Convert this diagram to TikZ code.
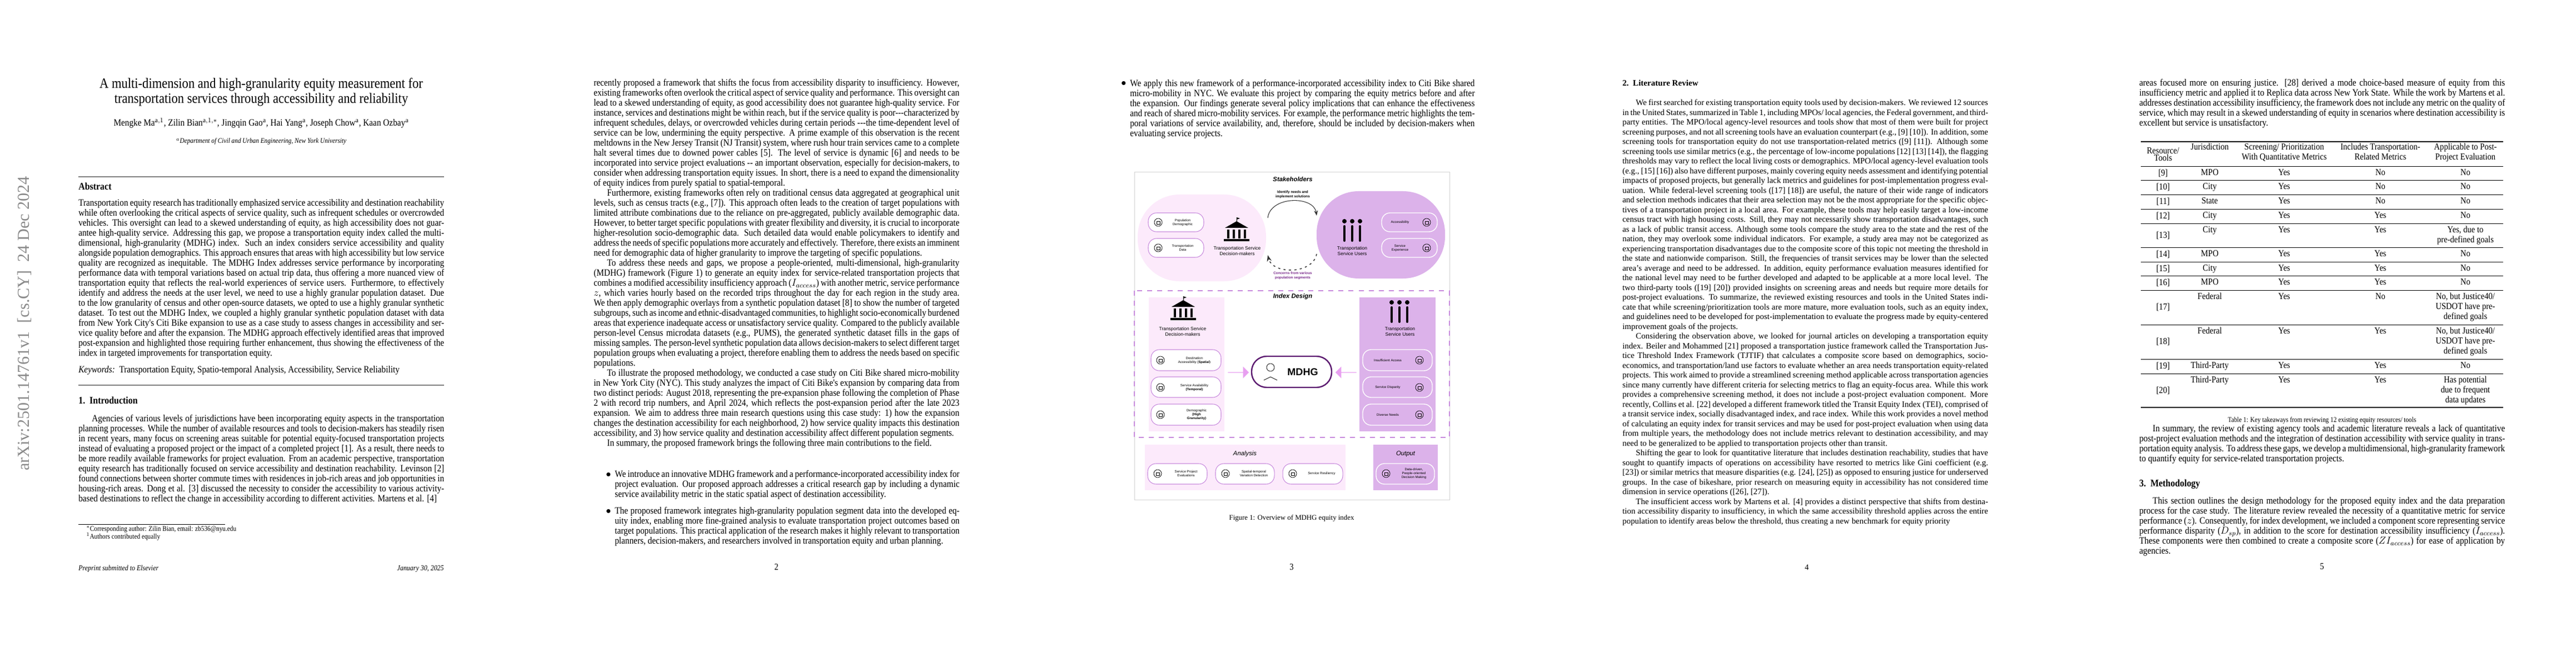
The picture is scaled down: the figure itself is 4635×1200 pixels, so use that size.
\documentclass[tikz,border=0pt]{standalone}
\usepackage{fontspec}
\setmainfont{Liberation Serif}
\newfontfamily\narrowrm[FakeStretch=0.88]{Liberation Serif}
\newfontfamily\figsf{Liberation Sans}
\usetikzlibrary{shapes.arrows,arrows.meta,calc}

\definecolor{pinkA}{HTML}{FCEAFB}
\definecolor{purpB}{HTML}{DCB2EA}
\definecolor{darkP}{HTML}{5C1B70}
\definecolor{lineP}{HTML}{C88BDD}
\definecolor{arrowP}{HTML}{E8A0F0}
\definecolor{concernP}{HTML}{7A2A8C}
\definecolor{stampgray}{HTML}{8A8A8A}

\newcommand\bodyfont{\narrowrm\fontsize{11.5}{11.93}\selectfont}
\newcommand\denseFont{\fontsize{9.9}{11.6}\selectfont}
\newcommand\ind{\hspace*{16pt}}

\tikzset{
  body/.style={anchor=north west, inner sep=0, text width=436pt, align=justify, font=\bodyfont},
  dense/.style={anchor=north west, inner sep=0, text width=436pt, align=justify, font=\denseFont},
  heading/.style={anchor=base west, inner sep=0, font=\narrowrm\bfseries\fontsize{12}{14}\selectfont},
  pagenum/.style={anchor=base, inner sep=0, font=\narrowrm\fontsize{11}{12}\selectfont},
  cell/.style={anchor=north, inner sep=0, align=center, font=\narrowrm\fontsize{11}{11.93}\selectfont},
  figtitle/.style={inner sep=0, font=\figsf\bfseries\itshape\fontsize{7.5}{8}\selectfont},
  pilltext/.style={inner sep=0, align=center, font=\figsf\fontsize{4}{4.6}\selectfont},
  bigtext/.style={inner sep=0, align=center, font=\figsf\fontsize{5.6}{6.6}\selectfont},
  pillL/.style={draw=lineP, line width=0.7pt, fill=white, rounded corners=10pt},
  pillR/.style={draw=white, line width=0.9pt, fill=purpB, rounded corners=10pt},
  icon/.style={line width=0.5pt, draw=black}
}

% small icons drawn at (x,y)
\newcommand\bankicon[2]{%
  \fill ({#1-21},{#2-8}) -- (#1,{#2-20}) -- ({#1+21},{#2-8}) -- cycle;
  \draw[line width=0.5pt] (#1,{#2-20}) -- (#1,{#2-27});
  \fill (#1,{#2-27}) -- ({#1+6},{#2-25}) -- (#1,{#2-23}) -- cycle;
  \foreach \dx in {-15,-5,5,15} {\draw[line width=2.2pt] ({#1+\dx},{#2-5}) -- ({#1+\dx},{#2+11});}
  \fill ({#1-23},{#2+12}) rectangle ({#1+23},{#2+16});
}
\newcommand\peopleicon[2]{%
  \foreach \dx in {-14,0,14} {
    \fill ({#1+\dx},{#2-20}) circle (4);
    \draw[line width=2.6pt, line cap=round] ({#1+\dx},{#2-11}) -- ({#1+\dx},{#2+15});
  }
}
\newcommand\smallicon[2]{%
  \draw[icon] (#1,#2) circle (7);
  \draw[icon] ({#1-3},{#2-2}) rectangle ({#1+3},{#2+3});
}

\begin{document}
\begin{tikzpicture}[x=0.6627pt, y=-0.6627pt]
\useasboundingbox (0,0) rectangle (4635,1200);
\fill[white] (0,0) rectangle (4635,1200);

% ---------------- page 1
\begin{scope}
  \node[rotate=90, text=stampgray, font=\fontsize{20}{22}\selectfont] (stamp) at (44,582)
    {arXiv:2501.14761v1\ \ [cs.CY]\ \ 24 Dec 2024};
  \node[inner sep=0, align=center, font=\narrowrm\fontsize{17}{18.2}\selectfont] (title) at (470,166)
    {A multi-dimension and high-granularity equity measurement for\\transportation services through accessibility and reliability};
  \node[anchor=base, inner sep=0, font=\narrowrm\fontsize{11.5}{13}\selectfont] (authors) at (470,227)
    {Mengke Ma$^{\mathrm{a},1}$, Zilin Bian$^{\mathrm{a},1,*}$, Jingqin Gao$^{\mathrm{a}}$, Hai Yang$^{\mathrm{a}}$, Joseph Chow$^{\mathrm{a}}$, Kaan Ozbay$^{\mathrm{a}}$};
  \node[anchor=base, inner sep=0, font=\narrowrm\itshape\fontsize{8.5}{10}\selectfont] (affil) at (470,258)
    {$^a$Department of Civil and Urban Engineering, New York University};
  \draw[gray, line width=1pt] (141,318) -- (799,318);
  \node[heading] (abshead) at (141,342) {Abstract};
  \node[body] (abstract) at (141,358) {Transportation equity research has traditionally emphasized service accessibility and destination reachability while often overlooking the critical aspects of service quality, such as infrequent schedules or overcrowded vehicles. This oversight can lead to a skewed understanding of equity, as high accessibility does not guarantee high-quality service. Addressing this gap, we propose a transportation equity index called the multi-dimensional, high-granularity (MDHG) index. Such an index considers service accessibility and quality alongside population demographics. This approach ensures that areas with high accessibility but low service quality are recognized as inequitable. The MDHG Index addresses service performance by incorporating performance data with temporal variations based on actual trip data, thus offering a more nuanced view of transportation equity that reflects the real-world experiences of service users. Furthermore, to effectively identify and address the needs at the user level, we need to use a highly granular population dataset. Due to the low granularity of census and other open-source datasets, we opted to use a highly granular synthetic dataset. To test out the MDHG Index, we coupled a highly granular synthetic population dataset with data from New York City's Citi Bike expansion to use as a case study to assess changes in accessibility and service quality before and after the expansion. The MDHG approach effectively identified areas that improved post-expansion and highlighted those requiring further enhancement, thus showing the effectiveness of the index in targeted improvements for transportation equity.\par};
  \node[anchor=base west, inner sep=0, font=\bodyfont] (keys) at (141,670)
    {\textit{Keywords:}\ \ Transportation Equity, Spatio-temporal Analysis, Accessibility, Service Reliability};
  \draw[gray, line width=1pt] (141,693) -- (799,693);
  \node[heading] (introhead) at (141,726) {1.\ \ Introduction};
  \node[body] (intro) at (141,746) {\ind Agencies of various levels of jurisdictions have been incorporating equity aspects in the transportation planning processes. While the number of available resources and tools to decision-makers has steadily risen in recent years, many focus on screening areas suitable for potential equity-focused transportation projects instead of evaluating a proposed project or the impact of a completed project [1]. As a result, there needs to be more readily available frameworks for project evaluation. From an academic perspective, transportation equity research has traditionally focused on service accessibility and destination reachability. Levinson [2] found connections between shorter commute times with residences in job-rich areas and job opportunities in housing-rich areas. Dong et al. [3] discussed the necessity to consider the accessibility to various activity-based destinations to reflect the change in accessibility according to different activities. Martens et al. [4]\par};
  \draw[line width=0.5pt] (141,943) -- (405,943);
  \node[anchor=base west, inner sep=0, font=\narrowrm\fontsize{8.5}{10}\selectfont] (fn1) at (155,955)
    {$^*$Corresponding author: Zilin Bian, email: zb536@nyu.edu};
  \node[anchor=base west, inner sep=0, font=\narrowrm\fontsize{8.5}{10}\selectfont] (fn2) at (155,969)
    {$^1$Authors contributed equally};
  \node[anchor=base west, inner sep=0, font=\narrowrm\itshape\fontsize{9}{10}\selectfont] (prep) at (141,1026) {Preprint submitted to Elsevier};
  \node[anchor=base east, inner sep=0, font=\narrowrm\itshape\fontsize{9}{10}\selectfont] (date) at (799,1026) {January 30, 2025};
\end{scope}

% ---------------- page 2
\begin{scope}[shift={(927,0)}]
  \node[body] (p2text) at (141,142) {recently proposed a framework that shifts the focus from accessibility disparity to insufficiency. However, existing frameworks often overlook the critical aspect of service quality and performance. This oversight can lead to a skewed understanding of equity, as good accessibility does not guarantee high-quality service. For instance, services and destinations might be within reach, but if the service quality is poor---characterized by infrequent schedules, delays, or overcrowded vehicles during certain periods ---the time-dependent level of service can be low, undermining the equity perspective. A prime example of this observation is the recent meltdowns in the New Jersey Transit (NJ Transit) system, where rush hour train services came to a complete halt several times due to downed power cables [5]. The level of service is dynamic [6] and needs to be incorporated into service project evaluations -- an important observation, especially for decision-makers, to consider when addressing transportation equity issues. In short, there is a need to expand the dimensionality of equity indices from purely spatial to spatial-temporal.\par
  \ind Furthermore, existing frameworks often rely on traditional census data aggregated at geographical unit levels, such as census tracts (e.g., [7]). This approach often leads to the creation of target populations with limited attribute combinations due to the reliance on pre-aggregated, publicly available demographic data. However, to better target specific populations with greater flexibility and diversity, it is crucial to incorporate higher-resolution socio-demographic data. Such detailed data would enable policymakers to identify and address the needs of specific populations more accurately and effectively. Therefore, there exists an imminent need for demographic data of higher granularity to improve the targeting of specific populations.\par
  \ind To address these needs and gaps, we propose a people-oriented, multi-dimensional, high-granularity (MDHG) framework (Figure 1) to generate an equity index for service-related transportation projects that combines a modified accessibility insufficiency approach ($I_{access}$) with another metric, service performance $z$, which varies hourly based on the recorded trips throughout the day for each region in the study area. We then apply demographic overlays from a synthetic population dataset [8] to show the number of targeted subgroups, such as income and ethnic-disadvantaged communities, to highlight socio-economically burdened areas that experience inadequate access or unsatisfactory service quality. Compared to the publicly available person-level Census microdata datasets (e.g., PUMS), the generated synthetic dataset fills in the gaps of missing samples. The person-level synthetic population data allows decision-makers to select different target population groups when evaluating a project, therefore enabling them to address the needs based on specific populations.\par
  \ind To illustrate the proposed methodology, we conducted a case study on Citi Bike shared micro-mobility in New York City (NYC). This study analyzes the impact of Citi Bike's expansion by comparing data from two distinct periods: August 2018, representing the pre-expansion phase following the completion of Phase 2 with record trip numbers, and April 2024, which reflects the post-expansion period after the late 2023 expansion. We aim to address three main research questions using this case study: 1) how the expansion changes the destination accessibility for each neighborhood, 2) how service quality impacts this destination accessibility, and 3) how service quality and destination accessibility affect different population segments.\par
  \ind In summary, the proposed framework brings the following three main contributions to the field.\par};
  \node[anchor=base, inner sep=0, font=\bodyfont] (b1dot) at (168,858) {$\bullet$};
  \node[body, text width=411pt] (bul1) at (179,846) {We introduce an innovative MDHG framework and a performance-incorporated accessibility index for project evaluation. Our proposed approach addresses a critical research gap by including a dynamic service availability metric in the static spatial aspect of destination accessibility.\par};
  \node[anchor=base, inner sep=0, font=\bodyfont] (b2dot) at (168,924) {$\bullet$};
  \node[body, text width=411pt] (bul2) at (179,912) {The proposed framework integrates high-granularity population segment data into the developed equity index, enabling more fine-grained analysis to evaluate transportation project outcomes based on target populations. This practical application of the research makes it highly relevant to transportation planners, decision-makers, and researchers involved in transportation equity and urban planning.\par};
  \node[pagenum] (pn2) at (470,1025) {2};
\end{scope}

% ---------------- page 3
\begin{scope}[shift={(1854,0)}]
  \node[anchor=base, inner sep=0, font=\bodyfont] (b3dot) at (168,155) {$\bullet$};
  \node[body, text width=411pt] (bul3) at (179,143) {We apply this new framework of a performance-incorporated accessibility index to Citi Bike shared micro-mobility in NYC. We evaluate this project by comparing the equity metrics before and after the expansion. Our findings generate several policy implications that can enhance the effectiveness and reach of shared micro-mobility services. For example, the performance metric highlights the temporal variations of service availability, and, therefore, should be included by decision-makers when evaluating service projects.\par};

  % figure frame
  \draw[gray!35, line width=0.6pt] (187,309) rectangle (754,899);
  \node[figtitle] (stake) at (472,322) {Stakeholders};
  \fill[pinkA, rounded corners=50pt] (193,350) rectangle (424,506);
  \fill[purpB, rounded corners=50pt] (515,344) rectangle (746,501);

  \draw[pillL] (212,383) rectangle (312,417);
  \smallicon{230}{400}
  \node[pilltext] (popdem) at (274,400) {Population\\Demographic};
  \draw[pillL] (212,429) rectangle (312,463);
  \smallicon{230}{446}
  \node[pilltext] (trdata) at (274,446) {Transportation\\Data};
  \bankicon{371}{418}
  \node[bigtext] (dmL) at (372,451) {Transportation Service\\Decision-makers};

  \peopleicon{579}{418}
  \node[bigtext] (usR) at (579,451) {Transportation\\Service Users};
  \draw[pillR] (632,383) rectangle (732,417);
  \smallicon{713}{400}
  \node[pilltext] (acc) at (665,400) {Accessibility};
  \draw[pillR] (632,429) rectangle (732,463);
  \smallicon{713}{446}
  \node[pilltext] (sexp) at (665,446) {Service\\Experience};

  \coordinate (arcS) at (427,392);
  \coordinate (arcE) at (515,388);
  \draw[-{Stealth}, line width=0.7pt, black!80] (arcS) .. controls (432,352) and (510,352) .. (arcE);
  \node[inner sep=0, align=center, font=\figsf\bfseries\fontsize{4.2}{5}\selectfont] (needs) at (472,350) {Identify needs and\\implement solutions};
  \coordinate (dashS) at (515,457);
  \coordinate (dashE) at (427,459);
  \draw[-{Stealth}, line width=1pt, black!80, dash pattern=on 2.5pt off 4pt] (dashS) .. controls (508,494) and (436,494) .. (dashE);
  \node[inner sep=0, align=center, text=concernP, font=\figsf\bfseries\fontsize{4.2}{5}\selectfont] (concern) at (472,496) {Concerns from various\\population segments};

  % index design
  \draw[lineP, line width=0.9pt, dash pattern=on 6pt off 6pt] (187,523) rectangle (754,787);
  \node[figtitle] (idx) at (472,534) {Index Design};
  \fill[pinkA] (213,535) rectangle (349,776);
  \bankicon{275}{560}
  \node[bigtext] (dmI) at (274,596) {Transportation Service\\Decision-makers};
  \draw[pillL] (217,629) rectangle (343,667);
  \smallicon{234}{648}
  \node[pilltext] (dest) at (295,648) {Destination\\Accessibility (\textbf{Spatial})};
  \draw[pillL] (217,678) rectangle (343,715);
  \smallicon{234}{697}
  \node[pilltext] (avail) at (295,697) {Service Availability\\\textbf{(Temporal)}};
  \draw[pillL] (217,727) rectangle (343,765);
  \smallicon{234}{746}
  \node[pilltext] (demo) at (299,746) {Demographic\\\textbf{(High}\\\textbf{Granularity)}};

  \fill[purpB] (592,535) rectangle (729,776);
  \peopleicon{664}{564}
  \node[bigtext] (usI) at (665,596) {Transportation\\Service Users};
  \draw[pillR] (598,629) rectangle (723,667);
  \smallicon{700}{648}
  \node[pilltext] (insuf) at (643,648) {Insufficient Access};
  \draw[pillR] (598,678) rectangle (723,715);
  \smallicon{700}{697}
  \node[pilltext] (disp) at (643,697) {Service Disparity};
  \draw[pillR] (598,727) rectangle (723,765);
  \smallicon{700}{746}
  \node[pilltext] (needsD) at (643,746) {Diverse Needs};

  \draw[darkP, line width=1.6pt, fill=white, rounded corners=18pt] (398,641) rectangle (542,697);
  \node[inner sep=0, font=\figsf\bfseries\fontsize{12}{12}\selectfont] (mdhg) at (490,669) {MDHG};
  \draw[icon] (432,661) circle (7);
  \draw[icon] (420,684) -- (432,678) -- (444,684);
  \node[single arrow, fill=arrowP, minimum height=25pt, minimum width=14pt, single arrow head extend=3pt, inner sep=0] (arrL) at (374,670) {};
  \node[single arrow, fill=arrowP, minimum height=25pt, minimum width=14pt, single arrow head extend=3pt, inner sep=0, shape border rotate=180] (arrR) at (568,670) {};

  % analysis and output
  \fill[pinkA] (206,800) rectangle (567,882);
  \node[figtitle, font=\figsf\itshape\fontsize{7.5}{8}\selectfont] (ana) at (386,817) {Analysis};
  \draw[pillL] (211,834) rectangle (318,871);
  \smallicon{229}{852}
  \node[pilltext] (proj) at (280,852) {Service Project\\Evaluations};
  \draw[pillL] (333,834) rectangle (439,871);
  \smallicon{351}{852}
  \node[pilltext] (stv) at (402,852) {Spatial-temporal\\Variation Detection};
  \draw[pillL] (454,834) rectangle (562,871);
  \smallicon{472}{852}
  \node[pilltext] (res) at (524,852) {Service Resiliency};
  \fill[purpB] (617,800) rectangle (733,882);
  \node[figtitle, font=\figsf\itshape\fontsize{7.5}{8}\selectfont] (outp) at (675,817) {Output};
  \draw[pillR] (622,834) rectangle (727,871);
  \smallicon{640}{852}
  \node[pilltext] (dd) at (690,852) {Data-driven,\\People-oriented\\Decision Making};

  \node[anchor=base, inner sep=0, font=\fontsize{8.5}{10}\selectfont] (cap1) at (470,935) {Figure 1: Overview of MDHG equity index};
  \node[pagenum] (pn3) at (470,1025) {3};
\end{scope}

% ---------------- page 4
\begin{scope}[shift={(2781,0)}]
  \node[anchor=base west, inner sep=0, font=\bfseries\fontsize{10}{11}\selectfont] (lithead) at (138,155) {2.\ \ Literature Review};
  \node[dense] (lit) at (138,179) {\ind We first searched for existing transportation equity tools used by decision-makers. We reviewed 12 sources in the United States, summarized in Table 1, including MPOs/ local agencies, the Federal government, and third-party entities. The MPO/local agency-level resources and tools show that most of them were built for project screening purposes, and not all screening tools have an evaluation counterpart (e.g., [9] [10]). In addition, some screening tools for transportation equity do not use transportation-related metrics ([9] [11]). Although some screening tools use similar metrics (e.g., the percentage of low-income populations [12] [13] [14]), the flagging thresholds may vary to reflect the local living costs or demographics. MPO/local agency-level evaluation tools (e.g., [15] [16]) also have different purposes, mainly covering equity needs assessment and identifying potential impacts of proposed projects, but generally lack metrics and guidelines for post-implementation progress evaluation. While federal-level screening tools ([17] [18]) are useful, the nature of their wide range of indicators and selection methods indicates that their area selection may not be the most appropriate for the specific objectives of a transportation project in a local area. For example, these tools may help easily target a low-income census tract with high housing costs. Still, they may not necessarily show transportation disadvantages, such as a lack of public transit access. Although some tools compare the study area to the state and the rest of the nation, they may overlook some individual indicators. For example, a study area may not be categorized as experiencing transportation disadvantages due to the composite score of this topic not meeting the threshold in the state and nationwide comparison. Still, the frequencies of transit services may be lower than the selected area's average and need to be addressed. In addition, equity performance evaluation measures identified for the national level may need to be further developed and adapted to be applicable at a more local level. The two third-party tools ([19] [20]) provided insights on screening areas and needs but require more details for post-project evaluations. To summarize, the reviewed existing resources and tools in the United States indicate that while screening/prioritization tools are more mature, more evaluation tools, such as an equity index, and guidelines need to be developed for post-implementation to evaluate the progress made by equity-centered improvement goals of the projects.\par
  \ind Considering the observation above, we looked for journal articles on developing a transportation equity index. Beiler and Mohammed [21] proposed a transportation justice framework called the Transportation Justice Threshold Index Framework (TJTIF) that calculates a composite score based on demographics, socio-economics, and transportation/land use factors to evaluate whether an area needs transportation equity-related projects. This work aimed to provide a streamlined screening method applicable across transportation agencies since many currently have different criteria for selecting metrics to flag an equity-focus area. While this work provides a comprehensive screening method, it does not include a post-project evaluation component. More recently, Collins et al. [22] developed a different framework titled the Transit Equity Index (TEI), comprised of a transit service index, socially disadvantaged index, and race index. While this work provides a novel method of calculating an equity index for transit services and may be used for post-project evaluation when using data from multiple years, the methodology does not include metrics relevant to destination accessibility, and may need to be generalized to be applied to transportation projects other than transit.\par
  \ind Shifting the gear to look for quantitative literature that includes destination reachability, studies that have sought to quantify impacts of operations on accessibility have resorted to metrics like Gini coefficient (e.g. [23]) or similar metrics that measure disparities (e.g. [24], [25]) as opposed to ensuring justice for underserved groups. In the case of bikeshare, prior research on measuring equity in accessibility has not considered time dimension in service operations ([26], [27]).\par
  \ind The insufficient access work by Martens et al. [4] provides a distinct perspective that shifts from destination accessibility disparity to insufficiency, in which the same accessibility threshold applies across the entire population to identify areas below the threshold, thus creating a new benchmark for equity priority\par};
  \node[anchor=base, inner sep=0, font=\fontsize{9.5}{10}\selectfont] (pn4) at (470,1025) {4};
\end{scope}

% ---------------- page 5
\begin{scope}[shift={(3708,0)}]
  \node[body] (p5top) at (141,142) {areas focused more on ensuring justice. [28] derived a mode choice-based measure of equity from this insufficiency metric and applied it to Replica data across New York State. While the work by Martens et al. addresses destination accessibility insufficiency, the framework does not include any metric on the quality of service, which may result in a skewed understanding of equity in scenarios where destination accessibility is excellent but service is unsatisfactory.\par};
  % table 1
  \draw[line width=1pt] (144,255) -- (796,255);
  \node[cell, anchor=center, font=\narrowrm\fontsize{11}{7}\selectfont] (hRes) at (184,278) {Resource/\\Tools};
  \node[cell] (hJur) at (268,258) {Jurisdiction};
  \node[cell] (hScr) at (402,258) {Screening/ Prioritization\\With Quantitative Metrics};
  \node[cell] (hInc) at (575,258) {Includes Transportation-\\Related Metrics};
  \node[cell] (hApp) at (728,258) {Applicable to Post-\\Project Evaluation};
  \draw[line width=0.6pt] (144,299) -- (796,299);
  \foreach \ytop/\ybot/\rref/\jur/\scr/\inc/\app in {
      299/324/{[9]}/MPO/Yes/No/No,
      324/350/{[10]}/City/Yes/No/No,
      350/376/{[11]}/State/Yes/No/No,
      376/402/{[12]}/City/Yes/Yes/No,
      402/445/{[13]}/City/Yes/Yes/{Yes, due to\\pre-defined goals},
      445/471/{[14]}/MPO/Yes/Yes/No,
      471/496/{[15]}/City/Yes/Yes/No,
      496/522/{[16]}/MPO/Yes/Yes/No,
      522/584/{[17]}/Federal/Yes/No/{No, but Justice40/\\USDOT have pre-\\defined goals},
      584/646/{[18]}/Federal/Yes/Yes/{No, but Justice40/\\USDOT have pre-\\defined goals},
      646/672/{[19]}/Third-Party/Yes/Yes/No,
      672/733/{[20]}/Third-Party/Yes/Yes/{Has potential\\due to frequent\\data updates}} {
    \node[cell, anchor=center] (r\ytop) at (184,{(\ytop+\ybot)/2}) {\rref};
    \node[cell] (j\ytop) at (268,\ytop+5) {\jur};
    \node[cell] (s\ytop) at (402,\ytop+5) {\scr};
    \node[cell] (i\ytop) at (575,\ytop+5) {\inc};
    \node[cell] (a\ytop) at (728,\ytop+5) {\app};
    \draw[line width=0.6pt] (144,\ybot) -- (796,\ybot);
  }
  \draw[line width=1pt] (144,733) -- (796,733);
  \node[anchor=base, inner sep=0, font=\narrowrm\fontsize{8.5}{10}\selectfont] (cap2) at (470,759) {Table 1: Key takeaways from reviewing 12 existing equity resources/ tools};
  \node[body] (summ) at (141,764) {\ind In summary, the review of existing agency tools and academic literature reveals a lack of quantitative post-project evaluation methods and the integration of destination accessibility with service quality in transportation equity analysis. To address these gaps, we develop a multidimensional, high-granularity framework to quantify equity for service-related transportation projects.\par};
  \node[heading] (methhead) at (141,875) {3.\ \ Methodology};
  \node[body] (meth) at (141,894) {\ind This section outlines the design methodology for the proposed equity index and the data preparation process for the case study. The literature review revealed the necessity of a quantitative metric for service performance ($z$). Consequently, for index development, we included a component score representing service performance disparity ($D_{sp}$), in addition to the score for destination accessibility insufficiency ($I_{access}$). These components were then combined to create a composite score ($ZI_{access}$) for ease of application by agencies.\par};
  \node[pagenum] (pn5) at (470,1024) {5};
\end{scope}
\end{tikzpicture}
\end{document}
